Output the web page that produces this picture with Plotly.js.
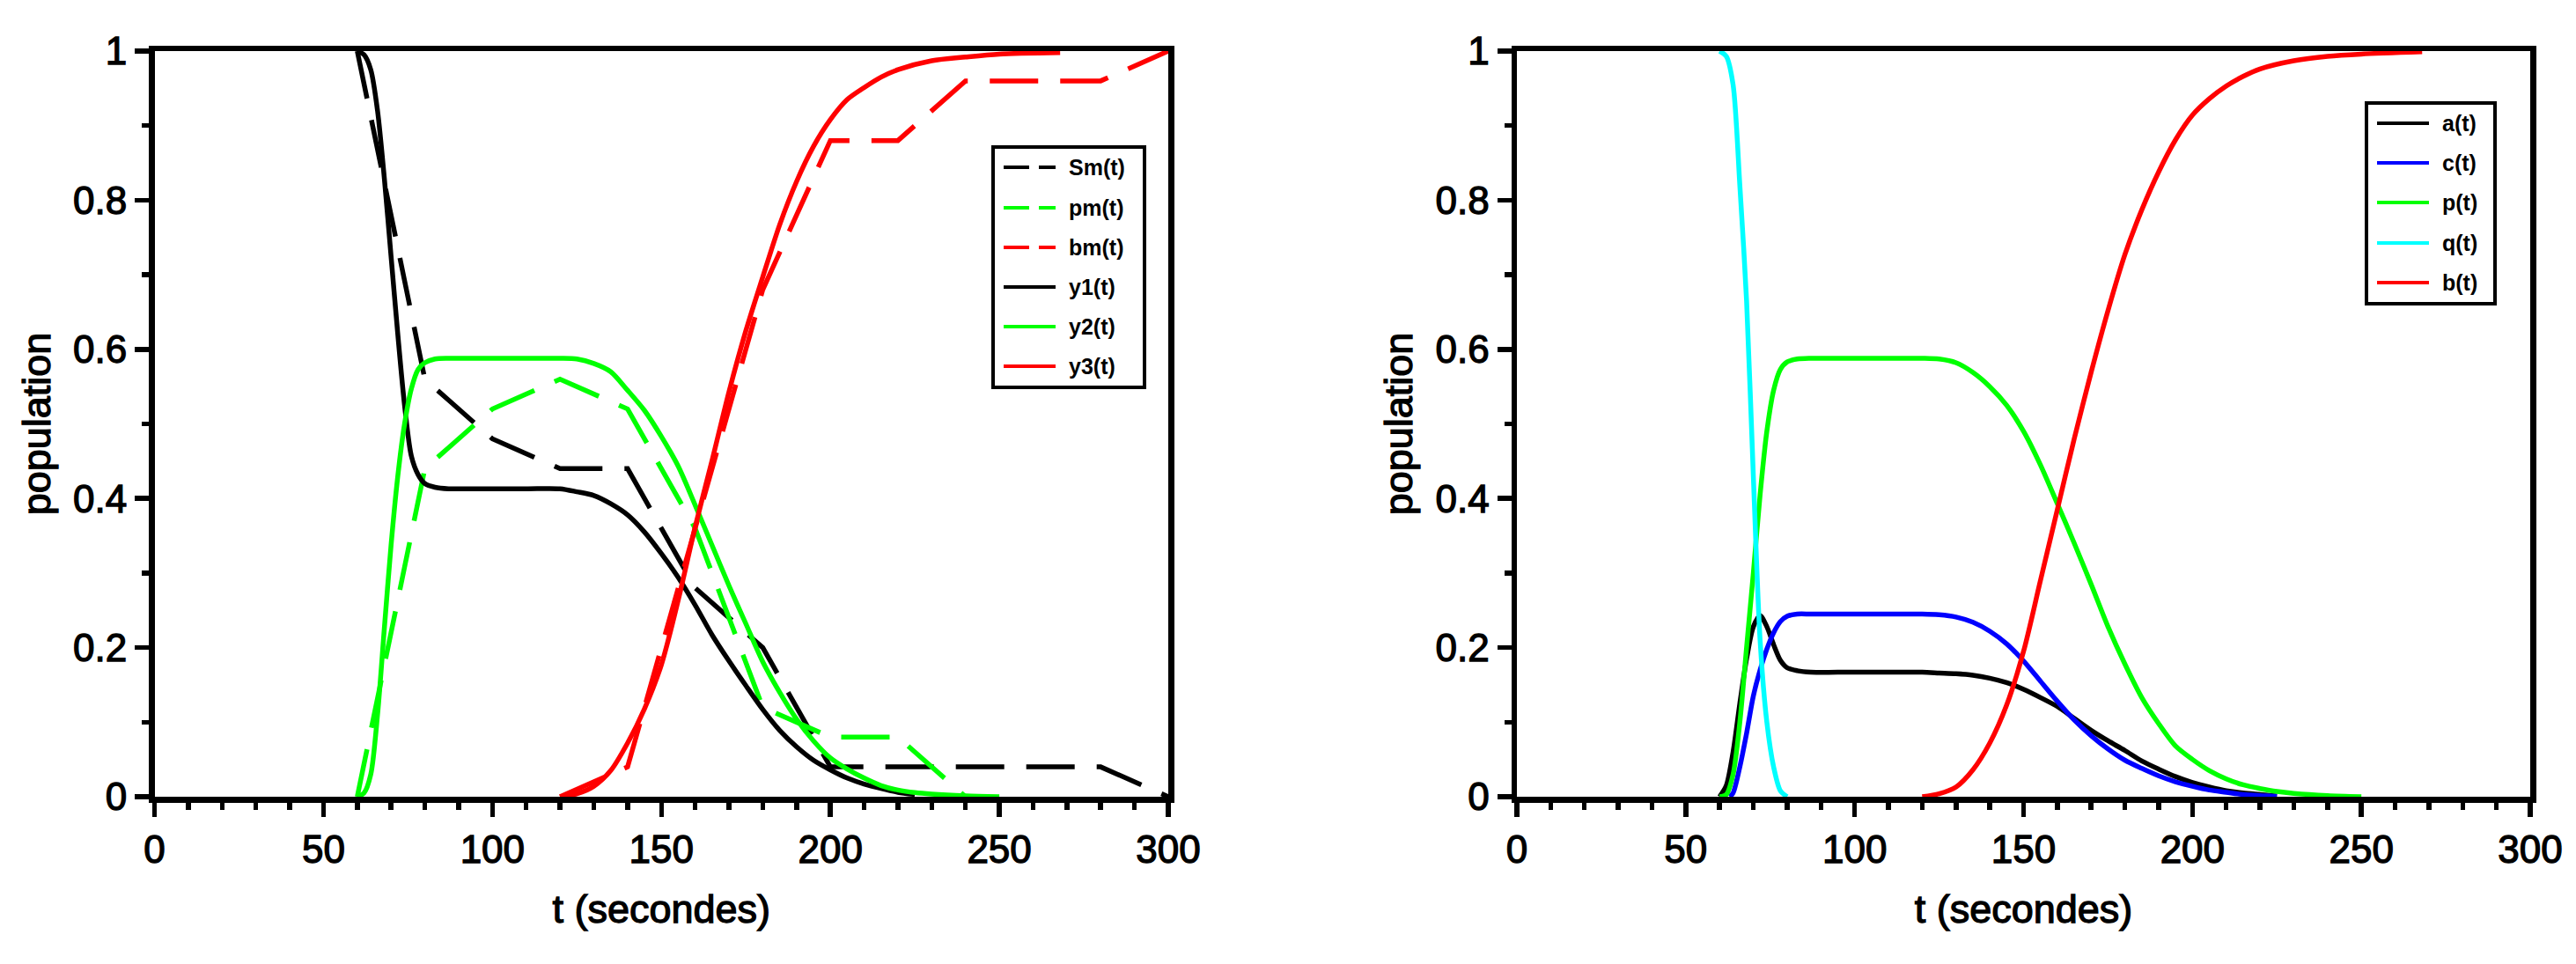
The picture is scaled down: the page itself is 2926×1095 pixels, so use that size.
<!DOCTYPE html>
<html>
<head>
<meta charset="utf-8">
<script src="https://cdn.plot.ly/plotly-3.0.1.min.js"></script>
<style>
  html, body { margin: 0; padding: 0; background: #ffffff; }
  #chart { width: 2926px; height: 1095px; }
  /* slightly heavier axis text, like the reference rendering */
  #chart .xtick text, #chart .ytick text, #chart .x2tick text, #chart .y2tick text,
  #chart .g-xtitle text, #chart .g-ytitle text, #chart .g-x2title text, #chart .g-y2title text {
    stroke: #000000; stroke-width: 1.3px;
  }
</style>
</head>
<body>
<div id="chart"></div>
<script>
// ================= DATA =================
const xTickVals = [0, 50, 100, 150, 200, 250, 300];
const yTickVals = [0, 0.2, 0.4, 0.6, 0.8, 1];

const leftNames  = ['Sm(t)', 'pm(t)', 'bm(t)', 'y1(t)', 'y2(t)', 'y3(t)'];
const rightNames = ['a(t)', 'c(t)', 'p(t)', 'q(t)', 'b(t)'];

// ---- left panel, measured (dashed, piecewise linear) ----
const tSm = [60, 80, 100, 120, 140, 160, 180, 200, 220, 240, 260, 280, 300];
const Sm  = [1.00, 0.56, 0.48, 0.44, 0.44, 0.28, 0.20, 0.04, 0.04, 0.04, 0.04, 0.04, 0.00];
const tPm = [60, 80, 100, 120, 140, 160, 180, 200, 220, 240];
const pm  = [0.00, 0.44, 0.52, 0.56, 0.52, 0.36, 0.12, 0.08, 0.08, 0.00];
const tBm = [120, 140, 160, 180, 200, 220, 240, 260, 280, 300];
const bm  = [0.00, 0.04, 0.36, 0.68, 0.88, 0.88, 0.96, 0.96, 0.96, 1.00];

// ---- left panel, model (solid) ----
const tY1 = [60, 62, 64, 66, 68, 70, 72, 74, 76, 78, 80, 83, 87, 95, 110, 120, 125, 130,
             135, 140, 145, 150, 155, 160, 165, 170, 175, 180, 185, 190, 195, 200, 205, 210, 215, 220, 225];
const y1  = [1, 0.995, 0.975, 0.92, 0.83, 0.725, 0.62, 0.525, 0.457, 0.432, 0.42, 0.415, 0.413, 0.413, 0.413, 0.413, 0.409, 0.404,
             0.393, 0.378, 0.355, 0.326, 0.294, 0.257, 0.217, 0.182, 0.149, 0.117, 0.089, 0.067, 0.049, 0.036, 0.025, 0.017, 0.011, 0.006, 0.003];
const tY2 = [60, 62, 64, 66, 68, 70, 72, 74, 76, 78, 80, 83, 87, 95, 110, 120, 125, 130, 135, 140,
             145, 150, 155, 160, 165, 170, 175, 180, 185, 190, 195, 200, 205, 210, 215, 220, 225, 230, 240, 250];
const y2  = [0, 0.005, 0.03, 0.11, 0.225, 0.337, 0.43, 0.50, 0.547, 0.573, 0.582, 0.587, 0.588, 0.588, 0.588, 0.588, 0.587, 0.581, 0.57, 0.545,
             0.518, 0.483, 0.443, 0.391, 0.337, 0.283, 0.232, 0.181, 0.14, 0.104, 0.075, 0.052, 0.037, 0.025, 0.015, 0.009, 0.0055, 0.0035, 0.0012, 0];
const tY3 = [120, 125, 130, 135, 140, 145, 150, 155, 160, 165, 170, 175, 180, 185, 190, 195, 200, 205, 210, 215, 220, 230, 240, 250, 268];
const y3  = [0, 0.004, 0.014, 0.035, 0.072, 0.118, 0.177, 0.264, 0.362, 0.451, 0.543, 0.625, 0.697, 0.767, 0.825, 0.872, 0.908, 0.935, 0.951, 0.965, 0.975, 0.987, 0.992, 0.996, 0.998];

// ---- right panel ----
const tA = [60, 62, 64, 66, 68, 70, 72, 74, 76, 78, 80, 83, 87, 95, 110, 120, 125, 130, 135, 140,
            145, 150, 155, 160, 165, 170, 175, 180, 185, 190, 195, 200, 205, 210, 215, 220, 225];
const a  = [0, 0.015, 0.06, 0.125, 0.185, 0.228, 0.243, 0.228, 0.204, 0.183, 0.173, 0.169, 0.167, 0.167, 0.167, 0.167, 0.166, 0.165, 0.163, 0.159,
            0.153, 0.144, 0.133, 0.121, 0.105, 0.089, 0.075, 0.062, 0.048, 0.037, 0.027, 0.019, 0.013, 0.008, 0.005, 0.003, 0.001];
const tC = [63, 64, 66, 68, 70, 72, 74, 76, 78, 80, 83, 87, 95, 110, 120, 125, 130, 135, 140, 145,
            150, 155, 160, 165, 170, 175, 180, 185, 190, 195, 200, 205, 210, 215, 220, 225];
const c  = [0, 0.005, 0.04, 0.085, 0.135, 0.17, 0.198, 0.22, 0.235, 0.242, 0.245, 0.245, 0.245, 0.245, 0.245, 0.244, 0.241, 0.234, 0.222, 0.205,
            0.182, 0.155, 0.128, 0.103, 0.082, 0.064, 0.049, 0.038, 0.028, 0.020, 0.014, 0.009, 0.006, 0.003, 0.0015, 0.0005];
const tP = [60, 62, 64, 66, 68, 70, 72, 74, 76, 78, 80, 83, 87, 95, 110, 120, 125, 130, 135, 140,
            145, 150, 155, 160, 165, 170, 175, 180, 185, 190, 195, 200, 205, 210, 215, 220, 225, 230, 240, 250];
const p  = [0, 0.003, 0.03, 0.10, 0.20, 0.30, 0.405, 0.49, 0.545, 0.573, 0.583, 0.587, 0.588, 0.588, 0.588, 0.588, 0.587, 0.582, 0.569, 0.55,
            0.525, 0.49, 0.445, 0.393, 0.34, 0.285, 0.228, 0.178, 0.133, 0.098, 0.068, 0.05, 0.035, 0.024, 0.016, 0.011, 0.007, 0.0045, 0.0015, 0];
const tQ = [60, 62, 64, 66, 68, 70, 72, 74, 76, 78, 80];
const q  = [1, 0.993, 0.955, 0.82, 0.665, 0.43, 0.21, 0.10, 0.04, 0.008, 0];
const tB = [120, 125, 130, 135, 140, 145, 150, 155, 160, 165, 170, 175, 180, 185, 190, 195, 200, 205, 210, 215, 220, 230, 240, 250, 268];
const b  = [0, 0.004, 0.013, 0.036, 0.072, 0.123, 0.195, 0.29, 0.385, 0.48, 0.569, 0.652, 0.727, 0.787, 0.838, 0.881, 0.914, 0.936, 0.953, 0.966, 0.976, 0.987, 0.993, 0.996, 0.999];

// ================= STYLE / LAYOUT =================
const W = 2926, H = 1095;
const px = v => v / W;          // pixel -> paper x
const py = v => 1 - v / H;      // pixel -> paper y
const FONT = 'Liberation Sans, Arial, Helvetica, sans-serif';
const BLACK = '#000000', GREEN = '#00ff00', RED = '#ff0000', BLUE = '#0000ff', CYAN = '#00ffff';
const LW = 5.5;
const AXW = 6.5;
const DATA_DASH = '55px,25px';
const LEG_DASH = '29px,11px';

function series(x, y, name, color, dashed, xa, ya) {
  return {
    type: 'scatter', mode: 'lines', x: x, y: y, name: name,
    xaxis: xa, yaxis: ya, showlegend: false, hoverinfo: 'skip',
    line: dashed ? { color: color, width: LW, dash: DATA_DASH, shape: 'linear' }
                 : { color: color, width: LW, shape: 'spline', smoothing: 0.8 }
  };
}

const leftSpec = [
  { x: tSm, y: Sm, color: BLACK, dashed: true },
  { x: tPm, y: pm, color: GREEN, dashed: true },
  { x: tBm, y: bm, color: RED,   dashed: true },
  { x: tY1, y: y1, color: BLACK, dashed: false },
  { x: tY2, y: y2, color: GREEN, dashed: false },
  { x: tY3, y: y3, color: RED,   dashed: false }
];
const rightSpec = [
  { x: tA, y: a, color: BLACK, dashed: false },
  { x: tC, y: c, color: BLUE,  dashed: false },
  { x: tP, y: p, color: GREEN, dashed: false },
  { x: tQ, y: q, color: CYAN,  dashed: false },
  { x: tB, y: b, color: RED,   dashed: false }
];

const traces = [];
leftSpec.forEach((s, i) => traces.push(series(s.x, s.y, leftNames[i], s.color, s.dashed, 'x', 'y')));
rightSpec.forEach((s, i) => traces.push(series(s.x, s.y, rightNames[i], s.color, s.dashed, 'x2', 'y2')));

// ---- legends drawn as boxes ----
const shapes = [];
const annotations = [];
function legend(spec, names, box, rows, lx0, lx1, tx) {
  shapes.push({ type: 'rect', xref: 'paper', yref: 'paper',
    x0: px(box[0]), x1: px(box[1]), y0: py(box[3]), y1: py(box[2]),
    line: { color: BLACK, width: 4 }, fillcolor: '#ffffff', layer: 'above' });
  spec.forEach((s, i) => {
    shapes.push({ type: 'line', xref: 'paper', yref: 'paper',
      x0: px(lx0), x1: px(lx1), y0: py(rows[i]), y1: py(rows[i]), layer: 'above',
      line: { color: s.color, width: 4, dash: s.dashed ? LEG_DASH : 'solid' } });
    annotations.push({ xref: 'paper', yref: 'paper', x: px(tx), y: py(rows[i]),
      xanchor: 'left', yanchor: 'middle', showarrow: false, text: names[i],
      font: { family: FONT, size: 25, color: BLACK, weight: 700 } });
  });
}
legend(leftSpec, leftNames, [1128, 1300, 167, 440], [190, 236, 281, 326, 371, 416], 1140, 1199, 1212);
legend(rightSpec, rightNames, [2688, 2834, 117, 345], [140, 185, 230, 276, 321], 2700, 2759, 2772);

const tickFont = { family: FONT, size: 44, color: BLACK };
const titleFont = { family: FONT, size: 45, color: BLACK };

function xAxis(domain, anchor) {
  return {
    domain: domain, anchor: anchor, range: [0, 300], fixedrange: true,
    tickmode: 'array', tickvals: xTickVals, ticktext: xTickVals.map(String),
    ticks: 'outside', ticklen: 16, tickwidth: 5.5, tickcolor: BLACK,
    minor: { tickmode: 'linear', tick0: 0, dtick: 10, ticks: 'outside', ticklen: 8, tickwidth: 5.5, tickcolor: BLACK, showgrid: false },
    showline: true, linewidth: AXW, linecolor: BLACK, mirror: true,
    showgrid: false, zeroline: false, tickfont: tickFont,
    title: { text: 't (secondes)', font: titleFont, standoff: 30 }
  };
}
function yAxis(domain, anchor) {
  return {
    domain: domain, anchor: anchor, range: [0, 1], fixedrange: true,
    tickmode: 'array', tickvals: yTickVals, ticktext: yTickVals.map(String),
    ticks: 'outside', ticklen: 16, tickwidth: 5.5, tickcolor: BLACK,
    minor: { tickmode: 'linear', tick0: 0, dtick: 0.1, ticks: 'outside', ticklen: 8, tickwidth: 5.5, tickcolor: BLACK, showgrid: false },
    showline: true, linewidth: AXW, linecolor: BLACK, mirror: true,
    showgrid: false, zeroline: false, tickfont: tickFont,
    title: { text: 'population', font: titleFont, standoff: 14 }
  };
}

const yDom = [py(905), py(58)];
const layout = {
  width: W, height: H, autosize: false,
  margin: { l: 0, r: 0, t: 0, b: 0, pad: 0 },
  paper_bgcolor: '#ffffff', plot_bgcolor: '#ffffff',
  showlegend: false,
  font: { family: FONT, color: BLACK },
  xaxis:  xAxis([px(175.5), px(1327)], 'y'),
  yaxis:  yAxis(yDom, 'x'),
  xaxis2: xAxis([px(1723), px(2874)], 'y2'),
  yaxis2: yAxis(yDom, 'x2'),
  shapes: shapes,
  annotations: annotations
};

Plotly.newPlot('chart', traces, layout, { staticPlot: true, displayModeBar: false });
</script>
</body>
</html>
